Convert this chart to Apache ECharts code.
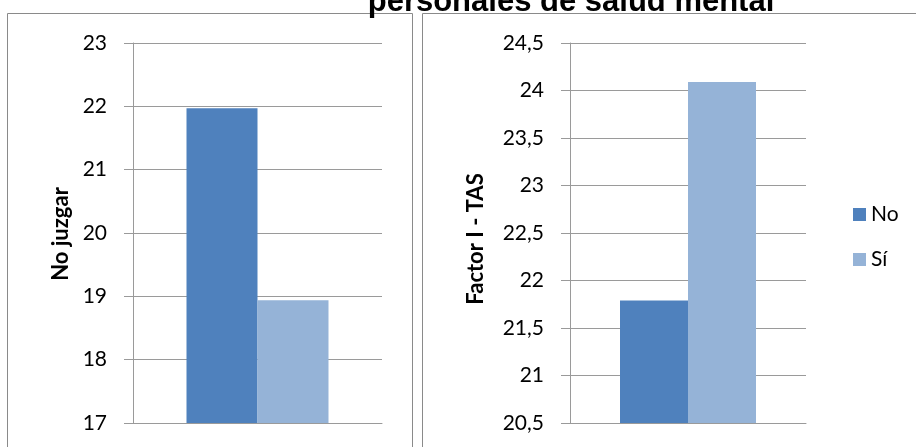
<!DOCTYPE html>
<html>
<head>
<meta charset="utf-8">
<script src="https://cdn.jsdelivr.net/npm/echarts@6/dist/echarts.min.js"></script>
<style>
  html, body { margin: 0; padding: 0; background: #fff; }
  #main { width: 916px; height: 447px; }
</style>
</head>
<body>
<div id="main"></div>
<script>
// values
var seriesNames = ['No', 'Sí'];
var leftValues = [21.97, 18.94];   // No juzgar
var rightValues = [21.79, 24.09];  // Factor I - TAS
var leftTicks = { min: 17, max: 23, interval: 1 };
var rightTicks = { min: 20.5, max: 24.5, interval: 0.5 };
var axisNames = ['No juzgar', 'Factor I - TAS'];
var titleText = 'personales de salud mental';
var colors = ['#4F81BD', '#95B3D7'];

var font = 'Lato, "Open Sans", sans-serif';
var gray = '#9a9a9a';

function yAxis(idx, ticks) {
  return {
    type: 'value', gridIndex: idx,
    min: ticks.min, max: ticks.max, interval: ticks.interval,
    axisLine: { show: true, lineStyle: { color: gray, width: 1 } },
    axisTick: { show: true, length: 9, lineStyle: { color: gray } },
    splitLine: { lineStyle: { color: gray, width: 1 } },
    axisLabel: {
      fontFamily: font, fontSize: 21, color: '#000', margin: 26,
      formatter: function (v) { return String(v).replace('.', ','); }
    }
  };
}

function xAxis(idx) {
  return {
    type: 'category', gridIndex: idx, data: [''],
    axisLine: { show: true, lineStyle: { color: gray } },
    axisTick: { show: false }, axisLabel: { show: false }
  };
}

// rotated y-axis titles, drawn as graphic text
function axisTitle(text, x, y) {
  return {
    type: 'text', x: x, y: y, rotation: Math.PI / 2,
    style: { text: text, align: 'center', verticalAlign: 'middle',
             font: 'bold 22px ' + font, fill: '#000' }
  };
}

var chart = echarts.init(document.getElementById('main'));
chart.setOption({
  animation: false,
  color: colors,
  graphic: [
    { type: 'rect', shape: { x: 7.5, y: 13.5, width: 405, height: 450 },
      style: { fill: 'none', stroke: '#8a8a8a', lineWidth: 1 } },
    { type: 'rect', shape: { x: 422.5, y: 13.5, width: 500, height: 450 },
      style: { fill: 'none', stroke: '#8a8a8a', lineWidth: 1 } },
    { type: 'text', x: 571, y: 2,
      style: { text: titleText, align: 'center', verticalAlign: 'middle',
               font: 'bold 31px "Liberation Sans", Arial, sans-serif', fill: '#000' } },
    axisTitle(axisNames[0], 61, 234),
    axisTitle(axisNames[1], 476, 239)
  ],
  legend: {
    orient: 'vertical', left: 848, top: 199, itemGap: 24,
    itemWidth: 13, itemHeight: 13, icon: 'rect',
    textStyle: { fontFamily: font, fontSize: 21, color: '#000' },
    data: seriesNames
  },
  grid: [
    { left: 133, top: 43, width: 249, height: 380 },
    { left: 570, top: 43, width: 236, height: 380 }
  ],
  xAxis: [xAxis(0), xAxis(1)],
  yAxis: [yAxis(0, leftTicks), yAxis(1, rightTicks)],
  series: [
    { name: seriesNames[0], type: 'bar', xAxisIndex: 0, yAxisIndex: 0, data: [leftValues[0]], barWidth: 71, barGap: 0 },
    { name: seriesNames[1], type: 'bar', xAxisIndex: 0, yAxisIndex: 0, data: [leftValues[1]], barWidth: 71, barGap: 0 },
    { name: seriesNames[0], type: 'bar', xAxisIndex: 1, yAxisIndex: 1, data: [rightValues[0]], barWidth: 68, barGap: 0 },
    { name: seriesNames[1], type: 'bar', xAxisIndex: 1, yAxisIndex: 1, data: [rightValues[1]], barWidth: 68, barGap: 0 }
  ]
});
</script>
</body>
</html>
